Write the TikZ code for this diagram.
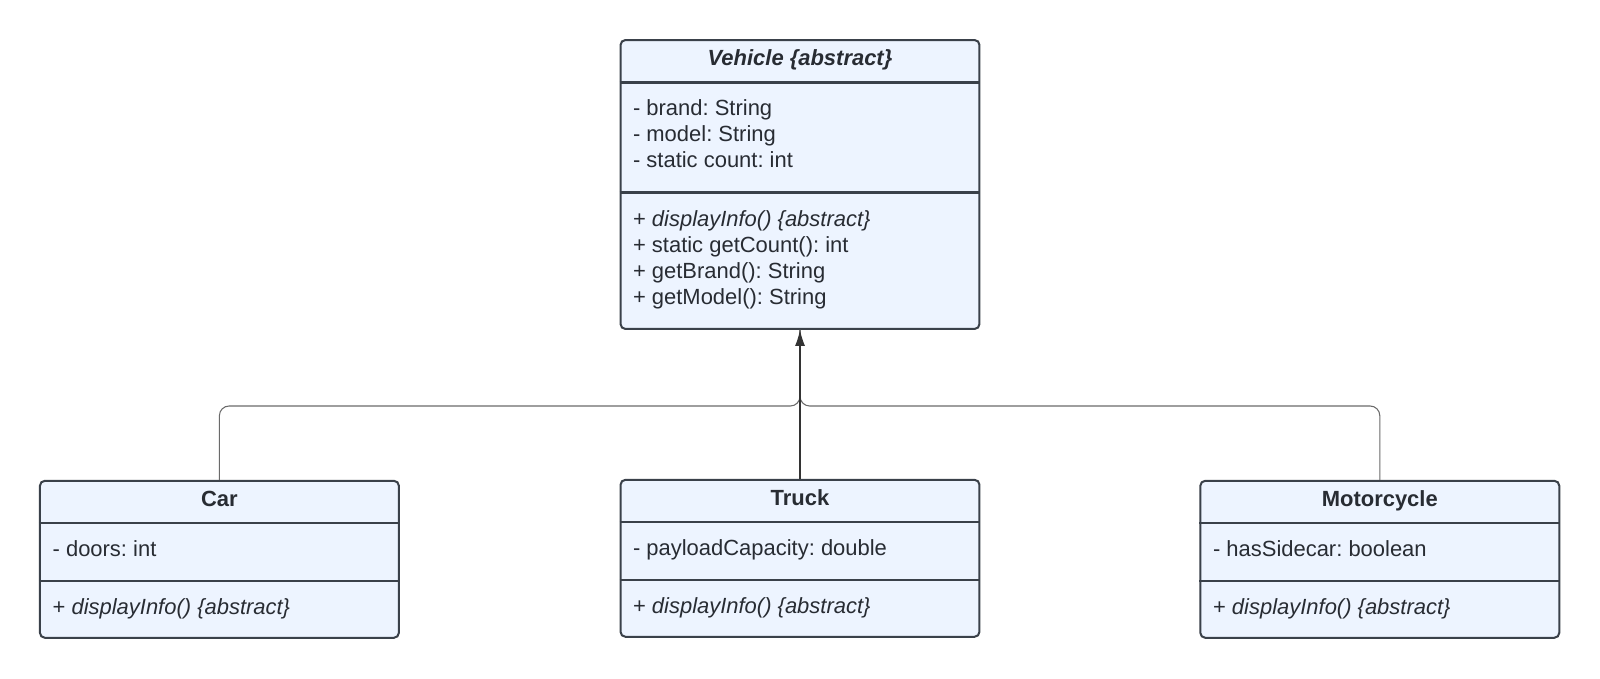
\documentclass[tikz,border=0pt]{standalone}
\usepackage{fontspec}
\setmainfont{Liberation Sans}
\usetikzlibrary{positioning, arrows.meta}
\definecolor{boxfill}{HTML}{EDF4FF}
\definecolor{boxline}{HTML}{3A414A}
\definecolor{txt}{HTML}{282C33}
\definecolor{wire}{HTML}{6A6A6A}
\definecolor{wiredark}{HTML}{333333}
\frenchspacing

\begin{document}
\begin{tikzpicture}[x=0.02cm, y=-0.02cm,
	classbox/.style={draw=boxline, line width=1.15pt, fill=boxfill, rounded corners=2.8pt, minimum width=7.18cm, inner sep=0pt},
	classname/.style={anchor=base, inner sep=0pt, text=txt, font=\fontsize{12.5}{15}\selectfont\bfseries},
	member/.style={anchor=base west, inner sep=0pt, text=txt, font=\fontsize{12.5}{15}\selectfont},
	sep/.style={draw=boxline, line width=1.15pt},
	wire/.style={draw=wire, line width=0.6pt, rounded corners=5.5pt}]
	\useasboundingbox (0,0) rectangle (1600,679);
	
	% parent class
	\node [classbox, minimum height=5.78cm] (vehicle) at (800,184.5) {};
	\node [classname] (vehiclename) at (800,66) {\itshape Vehicle \{abstract\}};
	\draw [sep] (vehicle.west |- 0,82.5) -- (vehicle.east |- 0,82.5);
	\draw [sep] (vehicle.west |- 0,192.5) -- (vehicle.east |- 0,192.5);
	\node [member] (vbrand) at (632.7,116) {- brand: String};
	\node [member] (vmodel) at (632.7,142) {- model: String};
	\node [member] (vcount) at (632.7,168) {- static count: int};
	\node [member] (vdisplay) at (632.7,226.5) {+ \textit{displayInfo() \{abstract\}}};
	\node [member] (vgetcount) at (632.7,252.5) {+ static getCount(): int};
	\node [member] (vgetbrand) at (632.7,278.5) {+ getBrand(): String};
	\node [member] (vgetmodel) at (632.7,304.5) {+ getModel(): String};
	
	% subclasses
	\node [classbox, minimum height=3.14cm] (car) at (219.4,559.3) {};
	\node [classname] (carname) at (219.4,506.7) {Car};
	\draw [sep] (car.west |- 0,523.4) -- (car.east |- 0,523.4);
	\draw [sep] (car.west |- 0,580.7) -- (car.east |- 0,580.7);
	\node [member] (cardoors) at (52.3,556.7) {- doors: int};
	\node [member] (cardisplay) at (52.3,614.3) {+ \textit{displayInfo() \{abstract\}}};
	
	\node [classbox, minimum height=3.14cm] (truck) at (800,558.3) {};
	\node [classname] (truckname) at (800,505.7) {Truck};
	\draw [sep] (truck.west |- 0,522.4) -- (truck.east |- 0,522.4);
	\draw [sep] (truck.west |- 0,579.7) -- (truck.east |- 0,579.7);
	\node [member] (truckload) at (632.7,555.7) {- payloadCapacity: double};
	\node [member] (truckdisplay) at (632.7,613.3) {+ \textit{displayInfo() \{abstract\}}};
	
	\node [classbox, minimum height=3.14cm] (moto) at (1379.8,559.3) {};
	\node [classname] (motoname) at (1379.8,506.7) {Motorcycle};
	\draw [sep] (moto.west |- 0,523.4) -- (moto.east |- 0,523.4);
	\draw [sep] (moto.west |- 0,580.7) -- (moto.east |- 0,580.7);
	\node [member] (motoside) at (1212.7,556.7) {- hasSidecar: boolean};
	\node [member] (motodisplay) at (1212.7,614.3) {+ \textit{displayInfo() \{abstract\}}};
	
	% generalisation
	\coordinate (join) at (800,406);
	\draw [wire] (car.north) |- (join) -- (vehicle.south);
	\draw [wire] (moto.north) |- (join) -- (vehicle.south);
	\draw [wire, draw=wiredark, -{Latex[length=0.32cm, width=0.2cm]}] (truck.north) -- (vehicle.south);
\end{tikzpicture}
\end{document}
